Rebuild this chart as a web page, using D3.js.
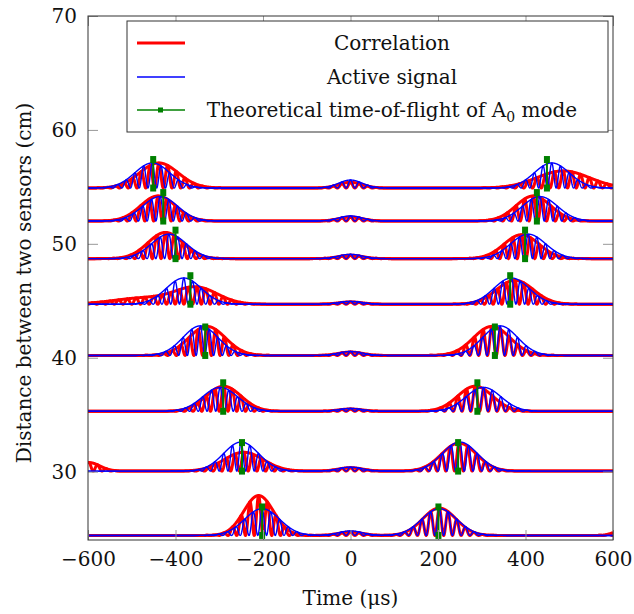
<!DOCTYPE html>
<html>
<head>
<meta charset="utf-8">
<script src="https://cdn.jsdelivr.net/npm/d3@7"></script>
<style>
  body { margin: 0; background: #fff; }
  text { font-family: "DejaVu Serif", serif; fill: #111; }
</style>
</head>
<body>
<div id="chart"></div>
<script>
// spacing between the two sensors for each trace (cm) = trace baseline
var distances = [54.9, 52.0, 48.7, 44.7, 40.2, 35.3, 30.05, 24.4];

// theoretical A0 time of flight (us), negative and positive lag
var tofLeft  = [-451, -428, -400, -366, -332, -291, -248, -202];
var tofRight = [449, 426, 399, 365, 330, 290, 246, 201];
var tofHeight = 2.5;

// active signal: packet centre (us) and envelope height (cm units)
var activeLeft  = [-453, -435, -415, -381, -343, -298, -250, -202];
var activeRight = [460, 433, 406, 368, 342, 304, 250, 203];
var activeAmpL  = [2.2, 2.15, 2.15, 2.3, 2.6, 2.1, 2.55, 2.35];
var activeAmpR  = [2.2, 2.15, 2.15, 2.3, 2.6, 2.1, 2.55, 2.35];
var activeZero  = [0.7, 0.45, 0.38, 0.25, 0.35, 0.25, 0.35, 0.4];

// correlation: packet centre, height and width (us)
var corrLeft   = [-438, -440, -423, -351, -328, -290, -244, -210];
var corrRight  = [486, 418, 391, 376, 323, 285, 248, 203];
var corrAmpL   = [2.2, 2.2, 2.3, 1.4, 2.55, 2.2, 1.65, 3.5];
var corrAmpR   = [1.5, 2.2, 2.1, 2.1, 2.55, 2.2, 2.45, 2.4];
var corrWidthL = [44, 40, 40, 48, 42, 40, 45, 34];
var corrWidthR = [60, 40, 40, 42, 42, 40, 40, 38];
var corrZero   = [0.5, 0.35, 0.3, 0.2, 0.3, 0.2, 0.3, 0.3];
// extra low humps of the correlation: [trace, centre, height, width]
var corrExtra = [[3, -470, 0.55, 70], [6, -598, 0.75, 25], [7, 628, 0.7, 20]];

var activeWidth = 40, zeroWidth = 27, period = 20;

var xTicks = [-600, -400, -200, 0, 200, 400, 600];
var yTicks = [30, 40, 50, 60, 70];

function draw() {
    var W = 634, H = 614;
    var mLeft = 88, mRight = 613, mTop = 16, mBottom = 540;

    var x = d3.scaleLinear().domain([-600, 600]).range([mLeft, mRight]);
    var y = d3.scaleLinear().domain([24, 70]).range([mBottom, mTop]);

    var svg = d3.select("#chart").append("svg")
        .attr("width", W).attr("height", H);

    svg.append("clipPath").attr("id", "clip")
        .append("rect").attr("x", mLeft).attr("y", mTop)
        .attr("width", mRight - mLeft).attr("height", mBottom - mTop);

    var times = d3.range(-600, 600.5, 0.5);

    // packets: list of [centre, height, width]
    function envelope(t, packets) {
        var s = 0;
        packets.forEach(function(p) {
            s += p[1] * Math.exp(-(t - p[0]) * (t - p[0]) / (2 * p[2] * p[2]));
        });
        return s;
    }
    function signal(t, packets) {
        var s = 0;
        packets.forEach(function(p) {
            var e = p[1] * Math.exp(-(t - p[0]) * (t - p[0]) / (2 * p[2] * p[2]));
            s += e * (1 + Math.cos(2 * Math.PI * (t - p[0]) / period)) / 2;
        });
        return s;
    }

    var line = d3.line().x(function(d) { return x(d[0]); }).y(function(d) { return y(d[1]); });

    var plot = svg.append("g").attr("clip-path", "url(#clip)");

    function drawTrace(g, base, packets, color, width) {
        g.append("path")
            .attr("d", line(times.map(function(t) { return [t, base + envelope(t, packets)]; })))
            .attr("fill", "none").attr("stroke", color).attr("stroke-width", width)
            .attr("stroke-linejoin", "round");
        g.append("path")
            .attr("d", line(times.map(function(t) { return [t, base + signal(t, packets)]; })))
            .attr("fill", "none").attr("stroke", color).attr("stroke-width", width)
            .attr("stroke-linejoin", "round");
    }

    var gCorr = plot.append("g"), gAct = plot.append("g"), gTof = plot.append("g");

    distances.forEach(function(d, i) {
        var cp = [[corrLeft[i], corrAmpL[i], corrWidthL[i]],
                  [corrRight[i], corrAmpR[i], corrWidthR[i]],
                  [0, corrZero[i], zeroWidth]];
        corrExtra.forEach(function(e) { if (e[0] === i) cp.push([e[1], e[2], e[3]]); });
        drawTrace(gCorr, d, cp, "#ff0000", 3);

        var ap = [[activeLeft[i], activeAmpL[i], activeWidth],
                  [activeRight[i], activeAmpR[i], activeWidth],
                  [0, activeZero[i], zeroWidth]];
        drawTrace(gAct, d, ap, "#0000ff", 1.4);

        [tofLeft[i], tofRight[i]].forEach(function(t) {
            gTof.append("line")
                .attr("x1", x(t)).attr("x2", x(t))
                .attr("y1", y(d)).attr("y2", y(d + tofHeight))
                .attr("stroke", "#008000").attr("stroke-width", 2);
            [d, d + tofHeight].forEach(function(v) {
                gTof.append("rect")
                    .attr("x", x(t) - 3).attr("y", y(v) - 3.5)
                    .attr("width", 6).attr("height", 7)
                    .attr("fill", "#008000");
            });
        });
    });

    // axes, ticks pointing inward on all four sides
    var xb = svg.append("g").attr("transform", "translate(0," + mBottom + ")")
        .call(d3.axisBottom(x).tickValues(xTicks).tickSize(-10).tickPadding(12)
            .tickFormat(function(v) { return v < 0 ? "\u2212" + Math.abs(v) : v; }));
    var xt = svg.append("g").attr("transform", "translate(0," + mTop + ")")
        .call(d3.axisTop(x).tickValues(xTicks).tickSize(-10).tickFormat(""));
    var yl = svg.append("g").attr("transform", "translate(" + mLeft + ",0)")
        .call(d3.axisLeft(y).tickValues(yTicks).tickSize(-10).tickPadding(11));
    var yr = svg.append("g").attr("transform", "translate(" + mRight + ",0)")
        .call(d3.axisRight(y).tickValues(yTicks).tickSize(-10).tickFormat(""));

    [xb, xt, yl, yr].forEach(function(a) {
        a.select(".domain").remove();
        a.selectAll(".tick line").attr("stroke", "#999");
        a.selectAll(".tick text").style("font-family", "DejaVu Serif, serif")
            .style("font-size", "20px").attr("fill", "#111");
    });

    svg.append("rect")
        .attr("x", mLeft).attr("y", mTop)
        .attr("width", mRight - mLeft).attr("height", mBottom - mTop)
        .attr("fill", "none").attr("stroke", "#333").attr("stroke-width", 1);

    // axis titles
    svg.append("text")
        .attr("x", (mLeft + mRight) / 2).attr("y", 605)
        .attr("text-anchor", "middle").style("font-size", "20px")
        .text("Time (\u03bcs)");
    svg.append("text")
        .attr("transform", "translate(31,283) rotate(-90)")
        .attr("text-anchor", "middle").style("font-size", "20px")
        .text("Distance between two sensors (cm)");

    // legend
    var lg = svg.append("g");
    lg.append("rect")
        .attr("x", 127).attr("y", 21).attr("width", 481).attr("height", 111)
        .attr("fill", "#fff").attr("stroke", "#333").attr("stroke-width", 1);

    var legendRows = [
        { label: "Correlation", color: "#ff0000", width: 3, y: 43 },
        { label: "Active signal", color: "#0000ff", width: 1.3, y: 77 },
        { label: "Theoretical time-of-flight of ", color: "#008000", width: 1.3, y: 110, sub: true }
    ];
    legendRows.forEach(function(r) {
        lg.append("line")
            .attr("x1", 137).attr("x2", 185).attr("y1", r.y).attr("y2", r.y)
            .attr("stroke", r.color).attr("stroke-width", r.width);
        if (r.sub) {
            lg.append("rect").attr("x", 158).attr("y", r.y - 2.5)
                .attr("width", 5).attr("height", 5).attr("fill", r.color);
        }
        var t = lg.append("text")
            .attr("x", 392).attr("y", r.y + 7)
            .attr("text-anchor", "middle").style("font-size", "20px");
        t.append("tspan").text(r.label);
        if (r.sub) {
            t.append("tspan").text("A");
            t.append("tspan").attr("dy", 5).style("font-size", "14px").text("0");
            t.append("tspan").attr("dy", -5).text(" mode");
        }
    });
}
window.onload = draw;
</script>
</body>
</html>
